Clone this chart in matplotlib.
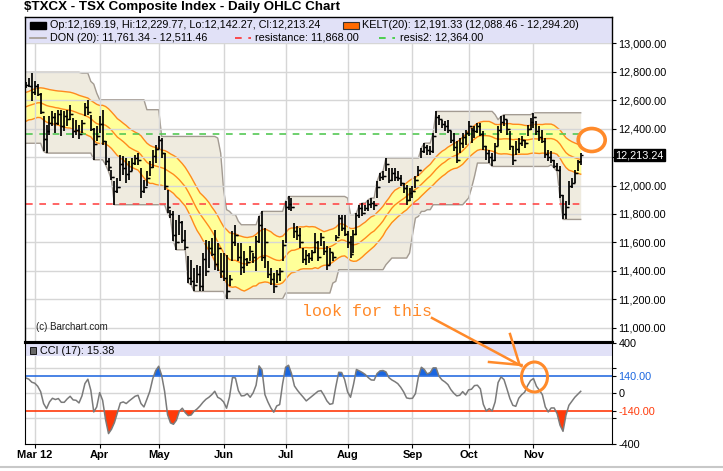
import numpy as np
import pandas as pd
import matplotlib
matplotlib.use("Agg")
import matplotlib.pyplot as plt
from matplotlib.patches import Ellipse, Rectangle
from matplotlib.lines import Line2D

plt.rcParams['font.family'] = ['Liberation Sans', 'DejaVu Sans']

# daily OHLC, $TXCX, Feb 27 - Nov 23 2012
highs = [12727, 12755, 12790, 12732, 12713, 12650, 12486, 12427, 12486, 12521,
         12509, 12533, 12533, 12521, 12533, 12568, 12474, 12463, 12427, 12463,
         12580, 12603, 12498, 12404, 12416, 12486, 12533, 12310, 12193, 12110,
         12029, 12052, 12216, 12205, 12193, 12170, 12193, 12216, 12228, 12123,
         12041, 12099, 12170, 12252, 12287, 12345, 12334, 12228, 11970,
         11830, 11818, 11759, 11795, 11748, 11689, 11501, 11478, 11419, 11443, 11431,
         11525, 11619, 11607, 11630, 11689, 11595, 11525, 11525, 11513, 11373,
         11677, 11724, 11595, 11595, 11537, 11490, 11572, 11525, 11642, 11783,
         11818, 11701, 11466, 11419, 11384, 11408, 11419, 11619, 11888, 11923,
         11912, 11736, 11712, 11701, 11560, 11548, 11525, 11548,
         11665, 11607, 11665, 11607, 11572, 11560, 11525, 11654, 11795, 11795, 11795, 11677,
         11642, 11689, 11806, 11865, 11876, 11865, 11900, 11912, 11888, 12029,
         12087, 12099, 12193, 12123, 12123, 12123, 12099, 12076, 12017, 12005,
         11982, 11994, 12064, 12134, 12263, 12298, 12287, 12275, 12369, 12521,
         12498, 12463, 12451, 12463, 12380, 12369,
         12310, 12334, 12369, 12392, 12451, 12404, 12416, 12439, 12439, 12380,
         12275, 12252, 12228, 12298, 12416, 12486, 12498, 12463, 12380, 12275,
         12310, 12334, 12345, 12322, 12427, 12474, 12511.46, 12451, 12416, 12392,
         12334, 12252, 12240, 12181, 12158, 12134, 11935, 11888, 12029, 12052,
         12111, 12181, 12229.77]
lows = [12685, 12690, 12596, 12638, 12627, 12502, 12240, 12228, 12357, 12416,
        12369, 12427, 12345, 12380, 12416, 12463, 12334, 12357, 12329, 12369,
        12486, 12498, 12380, 12181, 12310, 12369, 12287, 12146, 12099, 12040,
        11865, 11947, 12029, 12076, 12017, 12041, 12099, 12146, 12146, 11912,
        11947, 11994, 12064, 12123, 12158, 12259, 12193, 11970, 11806,
        11770, 11607, 11548, 11654, 11595, 11548, 11314, 11302, 11255, 11314, 11255,
        11255, 11361, 11419, 11501, 11408, 11396, 11349, 11326, 11204, 11290,
        11466, 11572, 11466, 11373, 11384, 11431, 11466, 11455, 11396, 11595,
        11466, 11419, 11349, 11302, 11244, 11314, 11326, 11466, 11595, 11830,
        11818, 11630, 11619, 11560, 11455, 11443, 11455, 11466,
        11525, 11466, 11572, 11513, 11408, 11443, 11466, 11607, 11642, 11677, 11642, 11560,
        11490, 11525, 11654, 11771, 11783, 11818, 11818, 11841, 11830, 11912,
        12029, 12041, 12099, 12017, 12029, 12029, 12029, 11994, 11947, 11865,
        11888, 11912, 11982, 12064, 12193, 12228, 12216, 12216, 12228, 12369,
        12427, 12404, 12380, 12369, 12298, 12240,
        12158, 12228, 12263, 12287, 12345, 12298, 12334, 12369, 12345, 12252,
        12181, 12158, 12134, 12170, 12275, 12369, 12416, 12357, 12252, 12146,
        12216, 12228, 12275, 12263, 12345, 12392, 12404, 12357, 12310, 12298,
        12193, 12170, 12158, 12123, 12099, 11912, 11761.34, 11765, 11865, 11982,
        12017, 12099, 12142.27]
closes = [12710, 12700, 12660, 12700, 12640, 12520, 12330, 12380, 12440, 12480,
          12440, 12500, 12420, 12490, 12470, 12500, 12380, 12390, 12360, 12440,
          12550, 12520, 12400, 12290, 12350, 12430, 12310, 12170, 12130, 12060,
          11960, 11990, 12150, 12120, 12080, 12100, 12160, 12190, 12180, 11960,
          11990, 12050, 12130, 12210, 12260, 12320, 12230, 12000, 11850,
          11800, 11650, 11600, 11740, 11620, 11570, 11350, 11330, 11300, 11380, 11290,
          11480, 11400, 11560, 11520, 11450, 11560, 11400, 11350, 11260, 11340,
          11600, 11650, 11500, 11430, 11480, 11460, 11540, 11500, 11610, 11720,
          11500, 11600, 11380, 11340, 11290, 11380, 11400, 11580, 11850, 11870,
          11850, 11680, 11650, 11600, 11480, 11510, 11490, 11530,
          11600, 11500, 11640, 11540, 11440, 11530, 11500, 11640, 11770, 11700, 11660, 11600,
          11520, 11660, 11790, 11840, 11810, 11840, 11870, 11880, 11860, 11990,
          12060, 12070, 12150, 12040, 12090, 12060, 12050, 12020, 11980, 11900,
          11950, 11960, 12040, 12110, 12240, 12270, 12250, 12240, 12350, 12480,
          12470, 12430, 12420, 12390, 12320, 12270,
          12180, 12300, 12340, 12370, 12420, 12390, 12380, 12420, 12360, 12280,
          12230, 12200, 12180, 12280, 12390, 12450, 12470, 12400, 12280, 12180,
          12260, 12300, 12320, 12300, 12400, 12450, 12480, 12380, 12340, 12310,
          12220, 12200, 12180, 12140, 12110, 11930, 11800, 11850, 12000, 12020,
          12090, 12165, 12213.24]
first_open = 12705
last_open = 12169.19

# CCI(17)
cci_values = [122, 112, 88, 80, 56, 13, -82, -122, -69, -40,
              -50, -42, -72, -72, -45, -24, -53, -56, -77, -21,
              77, 112, 24, -149, -109, 5, -56, -210, -321, -287,
              -234, -154, -77, -69, -82, -61, -42, -24, -16, -82,
              -109, -48, 16, 117, 181, 215, 143, 16, -170, -236,
              -247, -215, -143, -119, -154, -178, -173, -143, -125, -101,
              -72, -48, -32, -11, 16, -32, -45, -69, -119, -29,
              125, 122, 21, -21, -19, -3, -32, 3, 64, 218,
              186, -11, -69, -117, -151, -101, -90, 77, 207, 223,
              157, 58, 24, -5, -32, -61, -42, -24, -5, 16,
              21, -16, -61, -88, -82, 50, 167, 165, 109, 11,
              -32, 69, 189, 178, 165, 149, 125, 106, 104, 157,
              178, 181, 170, 125, 106, 93, 77, 48, 11, -37,
              -42, -40, -3, 130, 207, 189, 154, 165, 202, 202,
              135, 106, 90, 69, 29, 0, -21, -16, 13, -13,
              27, 32, 61, 64, 35, -88, -141, -122, -141, -69,
              85, 130, 109, 35, -42, -96, -104, -40, -11, 8,
              61, 101, 117, 56, 24, -11, -109, -149, -117, -117,
              -162, -255, -303, -175, -96, -64, -32, -8, 15.38]

# band values at the left edge of the chart (before the first bar)
kelt_mid_start = 12545
kelt_width_start = 105
don_hi_start = 12796
don_lo_start = 12297

# values printed in the legend
kelt_last = (12191.33, 12088.46, 12294.20)
don_last = (11761.34, 12511.46)
resistance = 11868.00
resis2 = 12364.00

holidays = ['2012-04-06', '2012-05-21', '2012-07-02', '2012-08-06', '2012-09-03', '2012-10-08']
months = ['Mar 12', 'Apr', 'May', 'Jun', 'Jul', 'Aug', 'Sep', 'Oct', 'Nov']

dates = pd.bdate_range('2012-02-27', '2012-11-23')
dates = dates[~dates.isin(pd.to_datetime(holidays))]
df = pd.DataFrame({'high': highs, 'low': lows, 'close': closes, 'cci': cci_values}, index=dates)
df['open'] = df['close'].shift(1)
df.iloc[0, df.columns.get_loc('open')] = first_open
df.iloc[-1, df.columns.get_loc('open')] = last_open
n = len(df)
x = np.arange(n)
cci = df['cci'].values.astype(float)

# Keltner (20) and Donchian (20)
tp = (df['high'] + df['low'] + df['close']) / 3
rng = df['high'] - df['low']
pad = 19
def padded(s, v):
    return pd.Series([v] * pad + list(s.values))
kmid = padded(tp, kelt_mid_start).rolling(20).mean().values[pad:]
kw = padded(rng, kelt_width_start).rolling(20).mean().values[pad:]
dhi = padded(df['high'], don_hi_start).rolling(20).max().values[pad:]
dlo = padded(df['low'], don_lo_start).rolling(20).min().values[pad:]

month_pos = [np.argmax((dates.month == m) & (dates.year == 2012)) for m in range(3, 12)]

W, H = 723, 471
def box(l, t, r, b):
    return [l / W, 1 - b / H, (r - l) / W, (b - t) / H]

fig = plt.figure(figsize=(7.23, 4.71), dpi=100)
ax = fig.add_axes(box(25, 17.3, 611.7, 342))
ax2 = fig.add_axes(box(25, 342, 611.7, 443.5), sharex=ax)

grid_c = '#d6d6d6'
# ---- price panel
ax.set_axisbelow('line')
ax.fill_between(x, dlo, dhi, color='#efebdf', lw=0, zorder=1)
ax.plot(x, dhi, color='#a39b92', lw=1, zorder=1.2)
ax.plot(x, dlo, color='#a39b92', lw=1, zorder=1.2)
ax.fill_between(x, kmid - kw, kmid + kw, color='#ffff99', lw=0, zorder=1.1)
for yy in (kmid - kw, kmid, kmid + kw):
    ax.plot(x, yy, color='#ff8a1c', lw=1, zorder=1.3)
ax.plot([0, n - 1], [resistance] * 2, color='#ff4a4a', lw=1.2, dashes=(4, 4), zorder=1.7)
ax.plot([0, n - 1], [resis2] * 2, color='#55c855', lw=1.2, dashes=(4, 4), zorder=1.7)
ax.vlines(x, df['low'], df['high'], color='black', lw=1.25, zorder=3)
ax.hlines(df['open'], x - 0.75, x, color='black', lw=1, zorder=3)
ax.hlines(df['close'], x, x + 0.75, color='black', lw=1, zorder=3)

last_close = df['close'].iloc[-1]
ax.set_xlim(-0.3, 198.5)
ax.set_ylim(10899.5, 13182.8)
ax.axhspan(13005, 13182.8, color='#e1e1f7', zorder=1.6, lw=0)
yt = np.arange(11000, 13001, 200)
ax.set_yticks(yt)
ax.set_yticklabels(['' if abs(v - last_close) < 60 else f'{v:,.2f}' for v in yt])
ax.yaxis.tick_right()
ax.tick_params(axis='y', length=3, pad=2, labelsize=7.8, right=True, left=False)
ax.set_xticks(month_pos)
ax.tick_params(axis='x', length=0, labelbottom=False)
ax.grid(color=grid_c, lw=1)
for s in ax.spines.values():
    s.set_linewidth(1)
ax.spines['bottom'].set_linewidth(2.2)
ax.text(1.006, (last_close - 10899.5) / (13182.8 - 10899.5), f"{last_close:,.2f}",
        transform=ax.transAxes, color='white', fontsize=7.8, va='center', ha='left', zorder=10,
        bbox=dict(boxstyle='square,pad=0.12', fc='black', ec='black'))
ax.text(0.019, 0.038, '(c) Barchart.com', transform=ax.transAxes, fontsize=7, color='#222222')

# ---- CCI panel
ax2.set_axisbelow('line')
ax2.set_ylim(-400, 408)
ax2.axhspan(297, 408, color='#e1e1f7', zorder=1.6, lw=0)
for lv in (200, 0, -200):
    ax2.axhline(lv, color=grid_c, lw=1, zorder=0.5)
ax2.axhline(140, color='#2a6ee0', lw=1.2, zorder=1.8)
ax2.axhline(-140, color='#ff3a0a', lw=1.2, zorder=1.8)
ax2.fill_between(x, cci, 140, where=cci > 140, interpolate=True, color='#1a66e0', lw=0, zorder=1.9)
ax2.fill_between(x, cci, -140, where=cci < -140, interpolate=True, color='#ff3a0a', lw=0, zorder=1.9)
ax2.plot(x, cci, color='#7a7a7a', lw=1.1, zorder=2)
ax2.set_yticks([400, 200, 140, 0, -140, -200, -400])
ax2.set_yticklabels(['400', '', '140.00', '0', '-140.00', '', '-400'])
ax2.yaxis.tick_right()
ax2.tick_params(axis='y', length=3, pad=2, labelsize=7.8, right=True, left=False)
lab = ax2.get_yticklabels()
lab[2].set_color('#1a66e0')
lab[4].set_color('#ff3a0a')
ax2.set_xticks(month_pos)
ax2.set_xticklabels(months, fontweight='bold', fontsize=8)
ax2.tick_params(axis='x', length=3, pad=2)
ax2.grid(axis='x', color=grid_c, lw=1)
ax2.spines['top'].set_linewidth(2.2)
ax2.add_patch(Rectangle((0.009, 0.885), 0.0095, 0.07, transform=ax2.transAxes, fc='#666666',
                        ec='black', lw=0.6, zorder=5))
ax2.text(0.026, 0.915, f'CCI (17): {cci[-1]:.2f}', transform=ax2.transAxes, fontsize=7.8,
         va='center', zorder=5)

# ---- header texts
fig.text(24 / W, 1 - 7 / H, '$TXCX - TSX Composite Index - Daily OHLC Chart', fontsize=9.6,
         fontweight='bold', va='center', ha='left')
row1, row2 = 1 - 25.5 / H, 1 - 38 / H
fs = 7.8
fig.patches.append(Rectangle((30 / W, 1 - 29 / H), 16 / W, 7.5 / H, transform=fig.transFigure,
                             fc='black', ec='black', figure=fig))
last = df.iloc[-1]
fig.text(50 / W, row1, f"Op:{last['open']:,.2f}, Hi:{last['high']:,.2f}, Lo:{last['low']:,.2f}, "
         f"Cl:{last['close']:,.2f}", fontsize=fs, va='center')
fig.patches.append(Rectangle((343 / W, 1 - 29 / H), 16 / W, 7.5 / H, transform=fig.transFigure,
                             fc='#ff6a00', ec='#333333', lw=0.8, figure=fig))
fig.text(362 / W, row1, "KELT(20): {:,.2f} ({:,.2f} - {:,.2f})".format(*kelt_last),
         fontsize=fs, va='center')
fig.lines.append(Line2D([30 / W, 46 / W], [row2, row2], transform=fig.transFigure, color='#a39b92', lw=1.2))
fig.text(50 / W, row2, "DON (20): {:,.2f} - {:,.2f}".format(*don_last), fontsize=fs, va='center')
fig.lines.append(Line2D([235 / W, 251 / W], [row2, row2], transform=fig.transFigure, color='#ff3030',
                        lw=1.2, dashes=(4, 4)))
fig.text(255 / W, row2, f"resistance: {resistance:,.2f}", fontsize=fs, va='center')
fig.lines.append(Line2D([379 / W, 395 / W], [row2, row2], transform=fig.transFigure, color='#33cc33',
                        lw=1.2, dashes=(4, 4)))
fig.text(400 / W, row2, f"resis2: {resis2:,.2f}", fontsize=fs, va='center')

# ---- hand-drawn annotation overlay
ov = fig.add_axes([0, 0, 1, 1], facecolor='none')
ov.set_xlim(0, W)
ov.set_ylim(H, 0)
ov.axis('off')
orange = '#ff8a2a'
ov.add_patch(Ellipse((591.7, 140), 27, 23, fill=False, ec=orange, lw=2.6))
ov.add_patch(Ellipse((534.5, 377), 26, 30, fill=False, ec=orange, lw=2.2))
ov.text(302, 311, 'look for this', color=orange, fontsize=12, family='Liberation Mono', va='center')
ov.plot([432, 521.5], [318, 366], color=orange, lw=1.8)
ov.plot([510, 519], [334, 363], color=orange, lw=1.8)
ov.plot([489, 521.5], [362, 365], color=orange, lw=1.8)
ov.plot([0, W], [467, 467], color='#c8c8c8', lw=1.5)

fig.savefig('out.png', dpi=100)
